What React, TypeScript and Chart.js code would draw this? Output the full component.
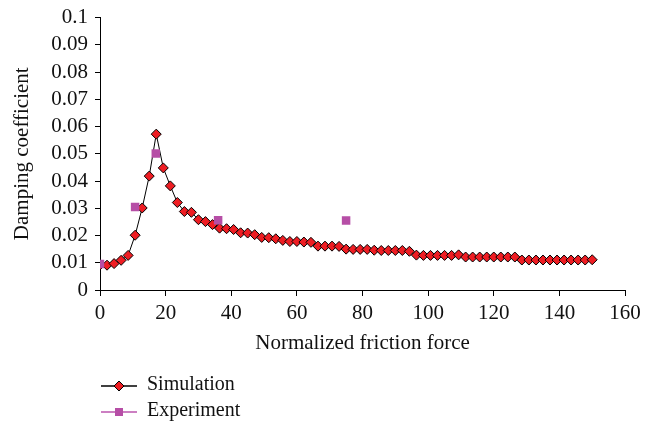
import React, { useEffect, useRef } from "react";
import { Chart, registerables } from "chart.js";

Chart.register(...registerables);

const simX = [0, 2.14, 4.29, 6.43, 8.57, 10.71, 12.86, 15, 17.14, 19.29, 21.43, 23.57, 25.71, 27.86, 30, 32.14, 34.29, 36.43, 38.57, 40.71, 42.86, 45, 47.14, 49.29, 51.43, 53.57, 55.71, 57.86, 60, 62.14, 64.29, 66.43, 68.57, 70.71, 72.86, 75, 77.14, 79.29, 81.43, 83.57, 85.71, 87.86, 90, 92.14, 94.29, 96.43, 98.57, 100.71, 102.86, 105, 107.14, 109.29, 111.43, 113.57, 115.71, 117.86, 120, 122.14, 124.29, 126.43, 128.57, 130.71, 132.86, 135, 137.14, 139.29, 141.43, 143.57, 145.71, 147.86, 150];
const simY = [0.0092, 0.0091, 0.0097, 0.0109, 0.0127, 0.0201, 0.0301, 0.0418, 0.0572, 0.0448, 0.0382, 0.0321, 0.0288, 0.0285, 0.0258, 0.0251, 0.024, 0.0227, 0.0225, 0.0222, 0.021, 0.0209, 0.0203, 0.0193, 0.0192, 0.0188, 0.0182, 0.0178, 0.0178, 0.0176, 0.0175, 0.0161, 0.0161, 0.0161, 0.016, 0.015, 0.0149, 0.0149, 0.0149, 0.0146, 0.0145, 0.0145, 0.0145, 0.0145, 0.0142, 0.0128, 0.0127, 0.0127, 0.0127, 0.0127, 0.0127, 0.0129, 0.0121, 0.0121, 0.0121, 0.0121, 0.0121, 0.0121, 0.0121, 0.0121, 0.011, 0.011, 0.011, 0.011, 0.011, 0.011, 0.011, 0.011, 0.011, 0.011, 0.0111];
const expX = [0, 10.7, 17, 36, 75];
const expY = [0.0095, 0.0305, 0.0501, 0.0256, 0.0255];
const legendLabels = ["Simulation", "Experiment"];
const xTitle = "Normalized friction force";
const yTitle = "Damping coefficient";

const FONT = "'Liberation Serif', 'Times New Roman', serif";
const RED = "#ee1d23";
const PURPLE = "#b64ea6";
const PURPLE_LINE = "#cc7fc2";

const legendPlugin = {
  id: "customLegend",
  afterDraw(chart: any) {
    const ctx = chart.ctx;
    ctx.save();
    ctx.font = `20px ${FONT}`;
    ctx.textBaseline = "middle";
    ctx.textAlign = "left";
    // Simulation
    let y = 386;
    ctx.strokeStyle = "#000";
    ctx.lineWidth = 1.5;
    ctx.beginPath();
    ctx.moveTo(101, y);
    ctx.lineTo(137, y);
    ctx.stroke();
    ctx.beginPath();
    ctx.moveTo(119, y - 5);
    ctx.lineTo(124, y);
    ctx.lineTo(119, y + 5);
    ctx.lineTo(114, y);
    ctx.closePath();
    ctx.fillStyle = RED;
    ctx.fill();
    ctx.lineWidth = 1;
    ctx.stroke();
    ctx.fillStyle = "#111";
    ctx.fillText(legendLabels[0], 147, y - 1);
    // Experiment
    y = 412;
    ctx.strokeStyle = PURPLE_LINE;
    ctx.lineWidth = 2;
    ctx.beginPath();
    ctx.moveTo(101, y);
    ctx.lineTo(137, y);
    ctx.stroke();
    ctx.fillStyle = PURPLE;
    ctx.fillRect(115, y - 4, 8, 8);
    ctx.fillStyle = "#111";
    ctx.fillText(legendLabels[1], 147, y - 1);
    ctx.restore();
  },
};

export default function App() {
  const ref = useRef<HTMLCanvasElement>(null);
  useEffect(() => {
    document.body.style.margin = "0";
    const canvas = ref.current!;
    const chart = new Chart(canvas, {
      type: "scatter",
      data: {
        datasets: [
          {
            label: legendLabels[1],
            data: expX.map((x, i) => ({ x, y: expY[i] })),
            pointStyle: "rect",
            pointRadius: 6,
            backgroundColor: PURPLE,
            borderColor: PURPLE,
            borderWidth: 0,
            showLine: false,
          },
          {
            label: legendLabels[0],
            data: simX.map((x, i) => ({ x, y: simY[i] })),
            pointStyle: "rectRot",
            pointRadius: 5,
            backgroundColor: RED,
            borderColor: "#000",
            pointBorderColor: "#000",
            pointBackgroundColor: RED,
            pointBorderWidth: 1,
            borderWidth: 1,
            showLine: true,
            tension: 0,
          } as any,
        ],
      },
      options: {
        animation: false,
        responsive: false,
        layout: { padding: { left: 0, right: 28, top: 15, bottom: 0 } },
        plugins: { legend: { display: false }, tooltip: { enabled: false } },
        scales: {
          x: {
            type: "linear",
            min: 0,
            max: 160,
            afterFit: (s: any) => {
              s.height = 135;
            },
            ticks: {
              stepSize: 20,
              autoSkip: false,
              maxRotation: 0,
              color: "#111",
              font: { family: FONT, size: 21 },
              padding: 5,
            },
            grid: {
              drawOnChartArea: false,
              drawTicks: true,
              tickLength: 6,
              color: "#000",
            },
            border: { display: true, color: "#000", width: 1 },
            title: {
              display: true,
              text: xTitle,
              color: "#111",
              font: { family: FONT, size: 21 },
              padding: { top: 0, bottom: 69 },
            },
          },
          y: {
            type: "linear",
            min: 0,
            max: 0.1,
            afterFit: (s: any) => {
              s.width = 100;
            },
            ticks: {
              stepSize: 0.01,
              autoSkip: false,
              color: "#111",
              font: { family: FONT, size: 21, lineHeight: 1 },
              padding: 7,
              callback: (v: any) => String(Number(Number(v).toFixed(2))),
            },
            grid: {
              drawOnChartArea: false,
              drawTicks: true,
              tickLength: 5,
              color: "#000",
            },
            border: { display: true, color: "#000", width: 1 },
            title: {
              display: true,
              text: yTitle,
              color: "#111",
              font: { family: FONT, size: 21 },
              padding: { top: 10, bottom: 0 },
            },
          },
        },
      },
      plugins: [legendPlugin],
    });
    return () => chart.destroy();
  }, []);
  return (
    <div style={{ width: 653, height: 425 }}>
      <canvas ref={ref} width={653} height={425} />
    </div>
  );
}
